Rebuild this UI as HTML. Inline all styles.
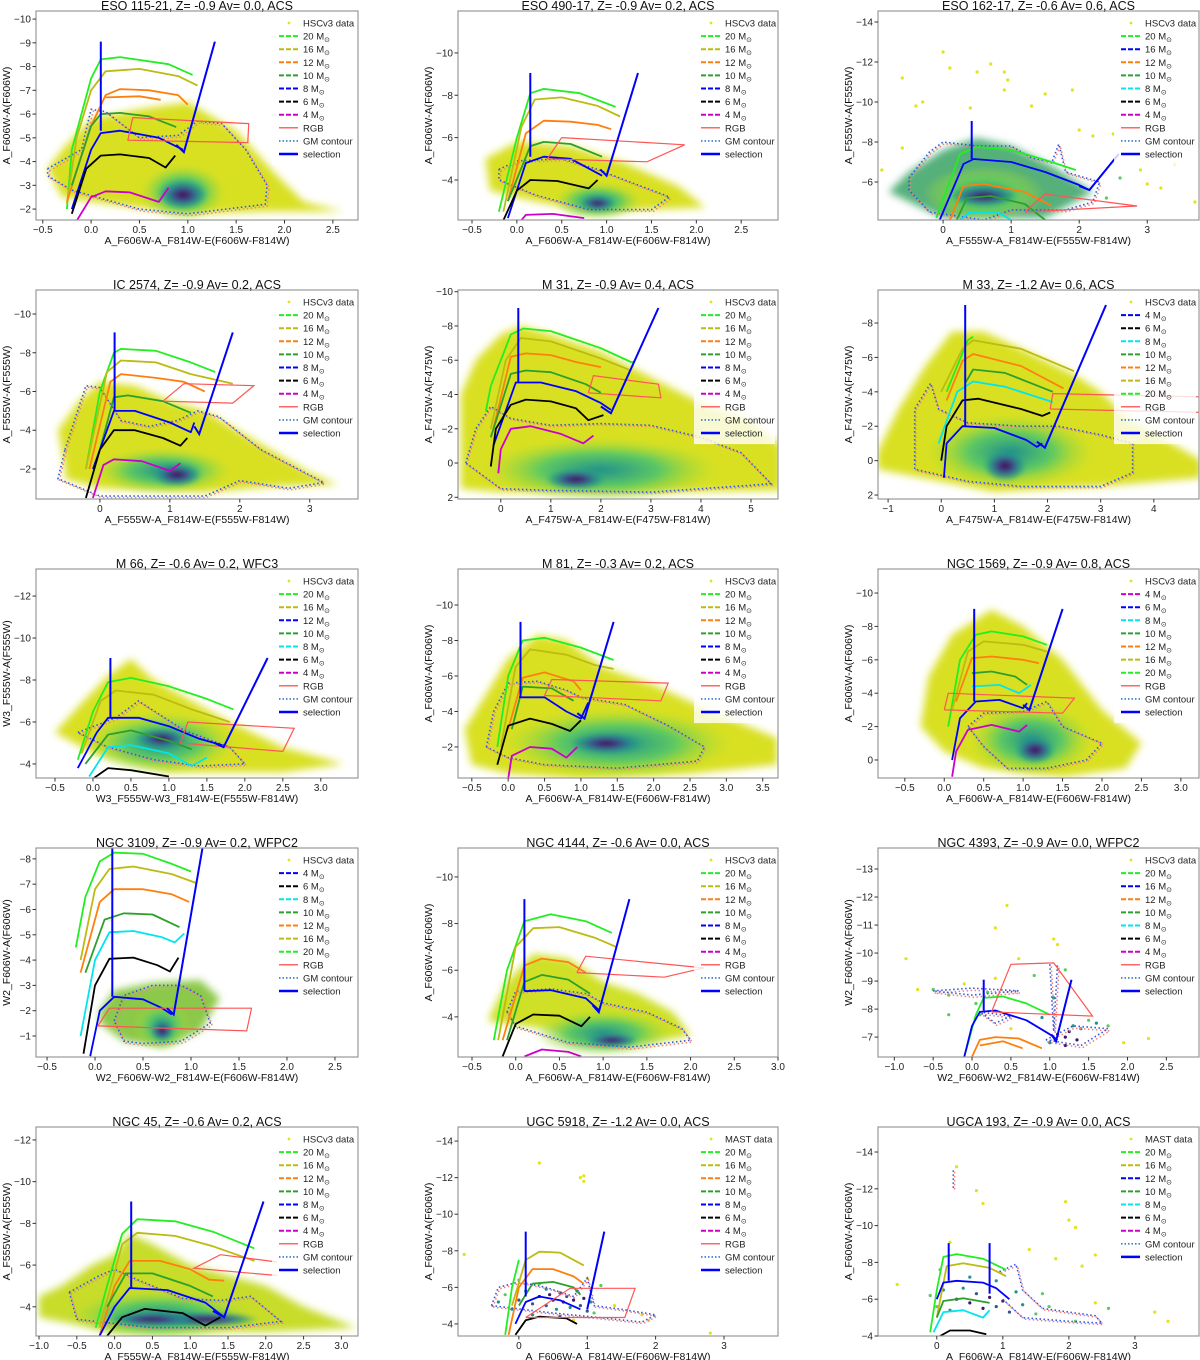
<!DOCTYPE html>
<html><head><meta charset="utf-8"><style>
body{margin:0;background:#fff;}
svg{display:block;font-family:"Liberation Sans","DejaVu Sans",sans-serif;}
</style></head><body>
<svg id="fig" width="1200" height="1360" viewBox="0 0 1200 1360" xmlns="http://www.w3.org/2000/svg">
<defs>
<radialGradient id="halo" cx="50%" cy="50%" r="50%">
<stop offset="0" stop-color="#21918c"/><stop offset="0.5" stop-color="#5ec962"/><stop offset="1" stop-color="#b5de2b" stop-opacity="0"/>
</radialGradient>
<radialGradient id="vir" cx="50%" cy="50%" r="50%">
<stop offset="0" stop-color="#440154"/><stop offset="0.4" stop-color="#3b528b"/><stop offset="0.75" stop-color="#21918c" stop-opacity="0.7"/><stop offset="1" stop-color="#21918c" stop-opacity="0"/>
</radialGradient>
<filter id="soft" x="-10%" y="-10%" width="120%" height="120%"><feGaussianBlur stdDeviation="4"/></filter>
<filter id="soft2" x="-20%" y="-20%" width="140%" height="140%"><feGaussianBlur stdDeviation="2"/></filter>
</defs>
</svg>
<script>
const NS='http://www.w3.org/2000/svg';
const COL={G:'#22ee22',Y:'#bbbb11',O:'#ff7f0e',D:'#2ca02c',B:'#0000ff',K:'#000000',M:'#cc00cc',C:'#00e5ee'};
const PCOL={y:'#e2e418',g:'#5ec962',t:'#21918c',p:'#3b1a6e',b:'#3b528b'};
const titles=['ESO 115-21, Z= -0.9 Av= 0.0, ACS','ESO 490-17, Z= -0.9 Av= 0.2, ACS','ESO 162-17, Z= -0.6 Av= 0.6, ACS','IC 2574, Z= -0.9 Av= 0.2, ACS','M 31, Z= -0.9 Av= 0.4, ACS','M 33, Z= -1.2 Av= 0.6, ACS','M 66, Z= -0.6 Av= 0.2, WFC3','M 81, Z= -0.3 Av= 0.2, ACS','NGC 1569, Z= -0.9 Av= 0.8, ACS','NGC 3109, Z= -0.9 Av= 0.2, WFPC2','NGC 4144, Z= -0.6 Av= 0.0, ACS','NGC 4393, Z= -0.9 Av= 0.0, WFPC2','NGC 45, Z= -0.6 Av= 0.2, ACS','UGC 5918, Z= -1.2 Av= 0.0, ACS','UGCA 193, Z= -0.9 Av= 0.0, ACS'];
const xLabels=['A_F606W-A_F814W-E(F606W-F814W)','A_F606W-A_F814W-E(F606W-F814W)','A_F555W-A_F814W-E(F555W-F814W)','A_F555W-A_F814W-E(F555W-F814W)','A_F475W-A_F814W-E(F475W-F814W)','A_F475W-A_F814W-E(F475W-F814W)','W3_F555W-W3_F814W-E(F555W-F814W)','A_F606W-A_F814W-E(F606W-F814W)','A_F606W-A_F814W-E(F606W-F814W)','W2_F606W-W2_F814W-E(F606W-F814W)','A_F606W-A_F814W-E(F606W-F814W)','W2_F606W-W2_F814W-E(F606W-F814W)','A_F555W-A_F814W-E(F555W-F814W)','A_F606W-A_F814W-E(F606W-F814W)','A_F606W-A_F814W-E(F606W-F814W)'];
const yLabels=['A_F606W-A(F606W)','A_F606W-A(F606W)','A_F555W-A(F555W)','A_F555W-A(F555W)','A_F475W-A(F475W)','A_F475W-A(F475W)','W3_F555W-A(F555W)','A_F606W-A(F606W)','A_F606W-A(F606W)','W2_F606W-A(F606W)','A_F606W-A(F606W)','W2_F606W-A(F606W)','A_F555W-A(F555W)','A_F606W-A(F606W)','A_F606W-A(F606W)'];
const xRanges=[[-0.57,2.76],[-0.656,2.91],[-0.956,3.76],[-0.914,3.69],[-0.855,5.54],[-1.19,4.85],[-0.75,3.49],[-0.69,3.71],[-0.84,3.23],[-0.615,2.74],[-0.66,3.0],[-1.21,2.92],[-1.04,3.22],[-0.89,3.79],[-0.89,3.97]];
const yRanges=[[-10.34,-1.54],[-11.98,-2.11],[-14.55,-4.1],[-11.24,-0.45],[-10.1,2.1],[-9.92,2.23],[-13.29,-3.33],[-12.03,-0.25],[-11.44,1.08],[-8.43,-0.17],[-11.24,-2.28],[-13.75,-6.29],[-12.62,-2.6],[-14.77,-3.34],[-15.36,-4.0]];
const xTicks=[[-0.5,0,0.5,1,1.5,2,2.5],[-0.5,0,0.5,1,1.5,2,2.5],[0,1,2,3],[0,1,2,3],[0,1,2,3,4,5],[-1,0,1,2,3,4],[-0.5,0,0.5,1,1.5,2,2.5,3],[-0.5,0,0.5,1,1.5,2,2.5,3,3.5],[-0.5,0,0.5,1,1.5,2,2.5,3],[-0.5,0,0.5,1,1.5,2,2.5],[-0.5,0,0.5,1,1.5,2,2.5,3],[-1,-0.5,0,0.5,1,1.5,2,2.5],[-1,-0.5,0,0.5,1,1.5,2,2.5,3],[0,1,2,3],[0,1,2,3]];
const xTickDec=[1,1,0,0,0,0,1,1,1,1,1,1,1,0,0];
const yTicks=[[-10,-9,-8,-7,-6,-5,-4,-3,-2],[-10,-8,-6,-4],[-14,-12,-10,-8,-6],[-10,-8,-6,-4,-2],[-10,-8,-6,-4,-2,0,2],[-8,-6,-4,-2,0,2],[-12,-10,-8,-6,-4],[-10,-8,-6,-4,-2],[-10,-8,-6,-4,-2,0],[-8,-7,-6,-5,-4,-3,-2,-1],[-10,-8,-6,-4],[-13,-12,-11,-10,-9,-8,-7],[-12,-10,-8,-6,-4],[-14,-12,-10,-8,-6,-4],[-14,-12,-10,-8,-6,-4]];
const cloudColors=['#d9e021','#d9e021','#55b07a','#d9e021','#d9e021','#d9e021','#d9e021','#d9e021','#d9e021','#8cc84a','#cfe028',null,'#c8dc2a',null,null];
const clouds=[
[[-0.45,-3.7],[-0.3,-4.5],[0,-5.8],[0.5,-6.2],[1.0,-6.5],[1.5,-5.3],[1.9,-3.5],[2.2,-2.3],[2.6,-1.9],[1.8,-1.9],[1.0,-1.8],[0.2,-2.2],[-0.3,-2.5]],
[[-0.3,-3.5],[-0.35,-5],[0,-5.8],[0.6,-5.6],[1.2,-4.8],[1.8,-3.7],[2.1,-2.7],[0.8,-2.5],[0.2,-3]],
[[-0.5,-6.5],[0,-7.6],[0.5,-8.2],[1,-7.8],[1.6,-6.8],[2.2,-5.5],[1.5,-4.2],[0,-4.2],[-0.8,-5.5]],
[[-0.5,-2],[-0.6,-4],[-0.3,-5.5],[0,-6.5],[0.5,-6.3],[1,-5.5],[1.5,-5],[2.2,-3.5],[3,-1.8],[3.4,-1.2],[2.5,-1.1],[1.5,-0.8],[0,-1],[-0.5,-1.5]],
[[-0.8,0.5],[-0.8,-4],[-0.5,-6],[0,-7.5],[0.4,-8],[1,-7.5],[2,-6.5],[3,-5],[4,-3.5],[5,-2.5],[5.6,-1],[5.6,1.6],[3,1.7],[0,1.7],[-0.8,1.5]],
[[-1.2,-0.5],[-0.8,-3],[-0.3,-5.5],[0.2,-7.5],[0.8,-7.5],[1.5,-6.5],[2.5,-5],[3,-4],[3.5,-2.5],[4.9,0],[4.9,1],[3,1.5],[1,1.8],[-1.2,0.5]],
[[-0.5,-5.5],[-0.2,-6.7],[0.2,-8.2],[0.5,-9],[0.8,-8],[1.3,-7],[1.8,-6],[2.5,-4.8],[3.3,-4],[2.5,-3.6],[1,-3.6],[0,-4.5]],
[[-0.5,-1],[-0.6,-3],[-0.3,-5],[0,-7],[0.4,-8.3],[0.8,-8],[1.3,-6.5],[2,-5.5],[2.8,-4],[3.7,-2.5],[3.7,-1],[2.5,-0.5],[1,-0.2],[0,-0.5]],
[[-0.3,-2],[-0.2,-5],[0.1,-7.5],[0.6,-9],[1.0,-8],[1.5,-6],[2,-3],[2.5,-1],[2.3,0.5],[1.5,1],[0.5,0.5],[0,-0.5]],
[[0.05,-2],[0.2,-2.8],[0.6,-3.1],[1.1,-3.2],[1.3,-2.5],[1.1,-1.2],[0.7,-0.6],[0.3,-0.8],[0.05,-1.5]],
[[-0.3,-4],[-0.1,-5.5],[0.2,-6.7],[0.6,-6.5],[1.0,-5.5],[1.4,-5],[1.8,-4.2],[2.0,-3.2],[1.5,-2.9],[1,-2.8],[0.3,-3.5],[-0.3,-3.8]],
[],
[[-1,-4.5],[-0.7,-5],[-0.3,-6],[0,-6.5],[0.2,-7.5],[0.5,-7],[1,-6],[1.5,-5.5],[2,-5],[2.5,-4],[3.2,-3],[2,-2.8],[0,-2.8],[-1,-3.5]],
[],[]];
const cores=[
[[0.95,-2.7,0.45,1.2],[0.95,-2.6,0.25,0.6]],
[[0.9,-3.0,0.5,0.9],[0.9,-2.9,0.2,0.35]],
[[0.6,-5.4,0.9,1.4],[0.6,-5.3,0.5,0.5]],
[[0.9,-1.9,1.0,1.2],[1.1,-1.7,0.35,0.6]],
[[2.0,0.4,2.4,1.9],[1.5,0.95,0.6,0.6]],
[[1.3,-0.5,1.6,2.2],[1.2,0.3,0.4,0.9]],
[[0.9,-5.0,1.0,1.5],[0.9,-5.2,0.35,0.5]],
[[1.5,-2.2,1.6,2.0],[1.35,-2.2,0.5,0.6]],
[[1.1,-1.2,0.8,2.2],[1.15,-0.6,0.25,0.8]],
[[0.7,-1.4,0.3,1.0],[0.7,-1.2,0.12,0.4]],
[[1.0,-3.3,0.8,1.0],[1.1,-3.0,0.3,0.3]],
[],
[[0.6,-3.6,1.2,1.2],[1.2,-3.4,0.7,0.35],[0.5,-3.4,0.6,0.35]],
[],[]];
const scatters=[[],[],
[[-0.6,-11.2,'y'],[0,-12.5,'y'],[0.1,-11.7,'y'],[0.5,-11.5,'y'],[0.7,-11.9,'y'],[0.9,-11.5,'y'],[0.95,-11.1,'y'],[0.9,-10.6,'y'],[-0.4,-9.8,'y'],[-0.3,-10,'y'],[1.5,-10.4,'y'],[1.9,-10.6,'y'],[1.3,-9.8,'y'],[-0.6,-7.7,'y'],[-0.9,-6.6,'y'],[2,-8.6,'y'],[2.2,-8.3,'y'],[2.5,-8.4,'y'],[3.4,-6.9,'y'],[3.0,-5.9,'y'],[3.2,-5.7,'y'],[3.7,-5.0,'y'],[2.9,-6.6,'y'],[0.4,-9.7,'y'],[2.6,-6.2,'g'],[2.4,-5.2,'g']],
[],[],[],[],[],[],[],[],
[[-0.85,-9.8,'y'],[-0.7,-8.7,'y'],[-0.5,-8.7,'g'],[-0.3,-8.5,'g'],[-0.1,-8.9,'y'],[0.05,-8.2,'g'],[0.1,-7.8,'g'],[0.2,-8.6,'g'],[0.3,-9.1,'y'],[0.45,-11.7,'y'],[0.3,-10.9,'y'],[0.6,-9.8,'y'],[1.05,-10.5,'y'],[1.1,-10.3,'y'],[0.8,-9.2,'g'],[1.2,-9.4,'g'],[1.2,-7.0,'p'],[1.25,-7.2,'p'],[1.3,-7.4,'t'],[1.1,-7.1,'p'],[1.4,-7.3,'t'],[1.0,-6.8,'t'],[1.5,-7.6,'g'],[1.2,-6.7,'p'],[1.35,-6.9,'p'],[1.6,-7.5,'t'],[1.95,-6.8,'y'],[2.27,-6.95,'y'],[1.05,-8.4,'t'],[0.9,-7.7,'t'],[-0.3,-7.8,'g'],[0.5,-7.3,'y'],[1.75,-7.4,'g']],
[],
[[-0.3,-5.2,'t'],[-0.2,-5.6,'g'],[-0.1,-4.8,'t'],[0,-5.3,'b'],[0.1,-5.8,'t'],[0.2,-5.1,'b'],[0.3,-5.5,'p'],[0.4,-5.0,'b'],[0.45,-5.6,'p'],[0.5,-5.3,'p'],[0.55,-4.8,'t'],[0.6,-5.7,'b'],[0.65,-5.2,'p'],[0.7,-5.5,'b'],[0.75,-4.9,'t'],[0.8,-5.3,'p'],[0.85,-5.8,'t'],[0.9,-5.0,'b'],[0.95,-5.4,'p'],[1.0,-4.7,'b'],[1.05,-5.2,'t'],[1.1,-4.6,'g'],[0.3,-6.2,'g'],[0.0,-6.4,'g'],[1.2,-6.1,'g'],[0.2,-4.5,'t'],[0.6,-4.4,'b'],[1.4,-5.0,'y'],[1.0,-6.5,'y'],[1.8,-4.5,'y'],[-0.8,-7.8,'y'],[0.3,-12.8,'y'],[0.9,-12.0,'y'],[0.95,-11.8,'y'],[0.95,-12.1,'y'],[2.8,-3.5,'y'],[1.9,-4.2,'y'],[0.4,-5.9,'t'],[0.8,-4.2,'y']],
[[0.3,-13.2,'y'],[0.6,-11.9,'y'],[0.7,-11.2,'y'],[1.95,-11.3,'y'],[2.0,-10.3,'y'],[2.1,-9.9,'y'],[1.4,-8.7,'y'],[1.8,-8.2,'y'],[2.2,-7.8,'y'],[2.4,-8.4,'y'],[3.3,-5.3,'y'],[3.5,-4.8,'y'],[-0.6,-6.8,'y'],[0.2,-9.1,'y'],[-0.1,-6.2,'g'],[0.1,-6.5,'t'],[0.3,-6.0,'p'],[0.5,-5.8,'p'],[0.6,-6.3,'b'],[0.7,-5.5,'p'],[0.8,-6.1,'p'],[0.9,-5.6,'b'],[1.0,-5.9,'p'],[1.1,-5.3,'b'],[1.2,-6.4,'t'],[0.4,-6.6,'t'],[0.2,-5.4,'t'],[0.0,-5.6,'g'],[1.3,-5.7,'t'],[1.5,-5.2,'g'],[0.5,-7.2,'t'],[0.9,-7.0,'t'],[1.6,-6.3,'g'],[0.05,-7.6,'g'],[1.7,-5.6,'g'],[2.1,-4.8,'g'],[2.4,-5.8,'y'],[2.6,-5.5,'g']]];
const tracks=[
[['G',[[-0.25,-2],[-0.2,-4.5],[0,-7.5],[0.1,-8.3],[0.3,-8.4],[0.8,-8.1],[1.05,-7.65]]],['Y',[[-0.25,-2.2],[-0.15,-5],[0,-7],[0.15,-7.8],[0.5,-7.9],[0.9,-7.6],[1.1,-7.2]]],['O',[[-0.25,-2.3],[0,-5.5],[0.15,-6.8],[0.3,-7.05],[0.6,-7],[0.9,-6.8],[1.0,-6.4]]],['O',[[0.15,-6.7],[0.5,-6.75],[0.72,-6.6]]],['D',[[-0.2,-3],[0,-5.5],[0.1,-6],[0.3,-6.05],[0.6,-5.9],[0.88,-5.45]]],['B',[[-0.2,-2],[0,-4.5],[0.1,-5.2],[0.3,-5.3],[0.7,-5],[0.95,-4.5]]],['K',[[-0.2,-1.8],[-0.05,-3.7],[0.1,-4.25],[0.3,-4.3],[0.6,-4.15],[0.77,-3.75],[0.87,-4.25]]],['M',[[-0.15,-1.5],[0,-2.5],[0.15,-2.75],[0.4,-2.7],[0.7,-2.3],[0.8,-2.9]]]],
[['G',[[-0.2,-2.5],[0,-6],[0.15,-8.1],[0.3,-8.3],[0.7,-8.1],[1.1,-7.45]]],['Y',[[-0.15,-2.5],[0.05,-6.5],[0.2,-7.8],[0.5,-7.9],[0.9,-7.5],[1.15,-7.0]]],['O',[[-0.1,-3],[0.1,-6.2],[0.3,-6.8],[0.6,-6.75],[0.9,-6.6],[1.05,-6.4]]],['D',[[-0.1,-3],[0.15,-5.6],[0.3,-5.8],[0.6,-5.7],[0.95,-5.1]]],['B',[[-0.1,-2.2],[0.1,-4.8],[0.3,-5.1],[0.6,-5.0],[0.95,-4.2]]],['K',[[-0.15,-2.1],[0,-3.5],[0.15,-4.0],[0.45,-3.95],[0.8,-3.6],[0.9,-4.0]]],['M',[[0.05,-2.1],[0.1,-2.35],[0.4,-2.4],[0.75,-2.2]]]],
[['G',[[-0.1,-4.2],[0.25,-7.4],[0.5,-7.75],[1,-7.6],[1.5,-7.1],[1.95,-6.6]]],['B',[[-0.05,-4.1],[0.3,-6.9],[0.45,-7.15],[1,-7],[1.5,-6.5],[2,-5.85],[2.15,-5.6]]],['O',[[0.1,-4.1],[0.3,-5.8],[0.6,-5.9],[1.2,-5.5],[1.6,-4.8]]],['D',[[0.2,-4.1],[0.35,-5.2],[0.7,-5.3],[1.2,-4.9],[1.5,-4.1]]],['C',[[0.25,-4.1],[0.4,-4.5],[0.8,-4.5],[1,-4.1]]]],
[['G',[[-0.2,-2],[0,-6],[0.2,-8],[0.3,-8.2],[0.8,-8.1],[1.3,-7.5],[1.65,-7]]],['Y',[[-0.2,-2],[0.1,-7],[0.3,-7.6],[0.8,-7.5],[1.3,-6.9],[1.9,-6.4]]],['O',[[-0.15,-2],[0.15,-6.5],[0.3,-6.9],[0.8,-6.7],[1.2,-6.5],[1.5,-6.0]]],['D',[[0,-3],[0.2,-5.7],[0.4,-5.8],[0.9,-5.5],[1.3,-4.9]]],['B',[[-0.1,-2],[0.2,-5],[0.5,-5],[1,-4.4],[1.3,-3.9],[1.35,-4.4]]],['K',[[-0.2,-0.5],[0,-3],[0.2,-4],[0.5,-4],[0.9,-3.6],[1.15,-3.2],[1.25,-3.6]]],['M',[[-0.1,-0.5],[0.05,-2.2],[0.2,-2.5],[0.6,-2.4],[1.0,-1.9],[1.15,-2.3]]]],
[['G',[[-0.3,-3],[-0.2,-4.5],[0.2,-7.5],[0.45,-7.85],[1,-7.7],[2,-6.7],[2.6,-5.9],[2.65,-5.9]]],['Y',[[-0.2,-2],[0.1,-6],[0.4,-7.3],[1,-7.1],[2,-6.1],[2.6,-5.4]]],['O',[[-0.15,-2],[0.2,-6.2],[0.5,-6.4],[1,-6.3],[1.5,-5.9],[2,-5.6]]],['D',[[-0.2,-1.5],[0.2,-5.2],[0.5,-5.4],[1,-5.3],[1.7,-4.6],[2,-4.1]]],['B',[[-0.15,-1],[0.3,-4.7],[0.8,-4.7],[1.5,-4.2],[2.0,-3.5],[2.2,-3.1]]],['K',[[-0.2,0.2],[-0.1,-2],[0.2,-3.4],[0.5,-3.7],[1,-3.6],[1.5,-3.2],[1.75,-2.5],[2.05,-2.8]]],['M',[[-0.05,0.6],[0,-0.8],[0.2,-2],[0.6,-2.15],[1.2,-1.7],[1.65,-1.15],[1.85,-1.6]]]],
[['G',[[0.1,-4],[0.5,-7.0],[0.6,-7.2]]],['Y',[[0,-4],[0.4,-6.5],[0.6,-7.0],[1.5,-6.5],[2.5,-5.2]]],['O',[[0.1,-3.5],[0.4,-5.8],[0.6,-6.2],[1.5,-5.5],[2.3,-4.2]]],['D',[[0.45,-4.5],[0.6,-5.3],[1.2,-5.1],[2.1,-4.0]]],['C',[[-0.05,-1],[0.3,-4],[0.6,-4.6],[1.2,-4.3],[2,-3.5],[2.1,-3.4]]],['K',[[0,0],[0.1,-2],[0.4,-3.5],[0.7,-3.6],[1.5,-3],[1.9,-2.6],[2.05,-2.8]]],['B',[[0.05,1],[0.1,-1],[0.4,-2.0],[1,-1.9],[1.6,-1.2],[1.8,-0.8],[1.9,-1.0]]]],
[['G',[[-0.2,-4.2],[0,-6.5],[0.2,-7.9],[0.5,-8.1],[1.0,-7.7],[1.5,-7.1],[1.85,-6.6]]],['Y',[[-0.15,-4.5],[0.1,-7],[0.3,-7.5],[0.8,-7.3],[1.3,-6.6],[1.8,-6.0]]],['B',[[-0.2,-3.8],[0.05,-5.5],[0.2,-6.2],[0.6,-6.2],[1,-5.8],[1.4,-5.2],[1.6,-5.0],[1.7,-4.9]]],['D',[[-0.1,-4],[0.2,-5.4],[0.5,-5.6],[1,-5.1],[1.3,-4.7]]],['C',[[-0.05,-3.4],[0.2,-4.8],[0.5,-4.9],[1,-4.5],[1.3,-3.9],[1.5,-4.3]]],['K',[[0,-3.3],[0.2,-3.8],[0.5,-3.7],[1,-3.4]]]],
[['G',[[-0.15,-2],[0,-6],[0.2,-8],[0.5,-8.15],[1,-7.6],[1.45,-6.9]]],['Y',[[-0.1,-2],[0.1,-6.5],[0.3,-7.5],[0.8,-7.2],[1.2,-6.6],[1.45,-6.4]]],['O',[[0,-3],[0.2,-5.9],[0.5,-6.2],[0.9,-5.7],[1.0,-5.2]]],['D',[[0.05,-3],[0.2,-5.4],[0.6,-5.3],[0.9,-4.6]]],['B',[[0.15,-4.8],[0.5,-4.8],[0.8,-4.0],[1.0,-3.6],[1.1,-4.5]]],['K',[[-0.15,-1],[0,-3.2],[0.3,-3.6],[0.6,-3.3],[0.85,-2.9],[1.0,-3.5]]],['M',[[0,-0.2],[0.05,-1.5],[0.3,-2.0],[0.6,-1.9],[0.8,-1.4],[0.95,-2.0]]]],
[['G',[[0.05,-2],[0.2,-6],[0.4,-7.5],[0.6,-7.7],[1.0,-7.4],[1.3,-6.9]]],['Y',[[0.1,-3],[0.3,-6.5],[0.5,-7.1],[1,-6.9],[1.3,-6.5]]],['O',[[0.15,-3.5],[0.35,-6.1],[0.6,-6.2],[1,-6.0],[1.2,-5.8]]],['D',[[0.35,-5.2],[0.6,-5.3],[0.9,-5.0],[1.05,-4.5]]],['C',[[0.35,-4.4],[0.7,-4.5],[0.95,-4.0],[1.1,-4.5]]],['B',[[0.1,0],[0.2,-2.5],[0.4,-3.5],[0.7,-3.6],[1.0,-3.1],[1.05,-3.4]]],['M',[[0.1,1],[0.15,-0.5],[0.3,-1.8],[0.6,-2.1],[0.95,-1.7],[1.05,-2.1]]]],
[['G',[[-0.2,-4.5],[-0.1,-6.5],[0.05,-7.9],[0.2,-8.25],[0.5,-8.2],[0.8,-7.8],[1.0,-7.5]]],['Y',[[-0.15,-4],[0,-6.8],[0.15,-7.6],[0.4,-7.7],[0.8,-7.4],[1.05,-7.05]]],['O',[[-0.15,-3.5],[0.05,-6.3],[0.2,-6.8],[0.5,-6.8],[0.8,-6.6],[0.98,-6.3]]],['D',[[-0.1,-3.5],[0.1,-5.6],[0.3,-5.85],[0.6,-5.8],[0.88,-5.3]]],['C',[[-0.15,-1],[0,-4],[0.15,-5.1],[0.4,-5.15],[0.7,-4.9],[0.83,-4.7],[0.93,-5.05]]],['K',[[-0.12,-0.3],[0,-3],[0.15,-4.05],[0.4,-4.1],[0.65,-3.8],[0.78,-3.55],[0.87,-4.1]]],['B',[[-0.05,-0.2],[0.05,-2],[0.2,-2.55],[0.5,-2.45],[0.7,-2.1],[0.8,-1.85]]]],
[['G',[[-0.25,-3],[-0.1,-6],[0.1,-8.1],[0.4,-8.4],[0.8,-8.1],[1.1,-7.6]]],['Y',[[-0.2,-3],[0,-7],[0.2,-7.8],[0.5,-7.85],[0.9,-7.4],[1.15,-7.0]]],['O',[[-0.15,-3],[0.1,-6.2],[0.3,-6.5],[0.6,-6.35],[0.8,-5.9]]],['D',[[-0.1,-3],[0.1,-5.5],[0.3,-5.8],[0.6,-5.6],[0.85,-5.0]]],['B',[[0.1,-5.1],[0.4,-5.15],[0.8,-4.8],[0.95,-4.3]]],['K',[[-0.15,-2.3],[0,-3.7],[0.2,-4.1],[0.5,-4.05],[0.75,-3.6],[0.85,-4.0]]],['M',[[0.1,-2.3],[0.3,-2.6],[0.6,-2.5],[0.75,-2.3]]]],
[['G',[[-0.1,-6.3],[0.05,-7.8],[0.15,-8.4],[0.4,-8.45],[0.7,-8.2],[1.0,-7.8]]],['B',[[-0.1,-6.3],[0,-7.4],[0.1,-7.9],[0.3,-7.95],[0.7,-7.6],[1.0,-7.1],[1.1,-6.9]]],['O',[[0.0,-6.3],[0.1,-6.9],[0.3,-7.0],[0.6,-6.95],[0.9,-6.6]]],['O',[[0.1,-6.7],[0.4,-6.85],[0.65,-6.6]]]],
[['G',[[-0.25,-3],[-0.1,-5],[0.1,-7.5],[0.3,-8.2],[0.8,-8.1],[1.3,-7.6],[1.85,-6.8]]],['Y',[[-0.2,-3],[0.1,-7],[0.3,-7.55],[0.8,-7.4],[1.3,-6.9],[1.85,-6.2]]],['O',[[-0.2,-2.6],[0,-5],[0.2,-6.2],[0.6,-6.2],[1.0,-5.8],[1.25,-5.3],[1.45,-5.25]]],['D',[[-0.1,-4],[0.15,-5.6],[0.5,-5.6],[1.0,-5.0],[1.3,-4.5]]],['B',[[-0.2,-2.6],[0,-4],[0.2,-4.9],[0.7,-4.8],[1.2,-4.2],[1.45,-3.5]]],['K',[[-0.1,-2.6],[0.1,-3.5],[0.4,-3.9],[0.9,-3.7],[1.2,-3.1],[1.4,-3.5]]]],
[['G',[[-0.2,-3.4],[-0.1,-6],[0.0,-7.5]]],['Y',[[-0.1,-5],[0.1,-7.5],[0.3,-7.95],[0.6,-7.9],[0.95,-7.2]]],['O',[[-0.15,-3.4],[0,-6],[0.2,-7.0],[0.5,-7.0],[0.8,-6.6],[0.95,-6.2]]],['D',[[0,-5],[0.2,-6.2],[0.5,-6.3],[0.8,-6.0],[0.9,-5.6]]],['B',[[-0.05,-4],[0.1,-5.2],[0.3,-5.5],[0.6,-5.3],[0.9,-4.8]]],['K',[[-0.05,-3.4],[0.1,-4.2],[0.3,-4.4],[0.7,-4.3],[0.85,-4.0]]]],
[['G',[[-0.1,-4.2],[0,-6.5],[0.1,-8.3],[0.3,-8.45],[0.7,-8.2],[1.05,-7.6]]],['Y',[[0,-5],[0.15,-7.8],[0.4,-7.95],[0.8,-7.7],[1.05,-7.25]]],['B',[[0,-6],[0.1,-6.9],[0.3,-7.0],[0.7,-6.9],[0.9,-6.6],[1.0,-6.3],[1.1,-6.0]]],['D',[[0,-5],[0.1,-5.9],[0.4,-6.05],[0.8,-5.8]]],['C',[[-0.05,-4.2],[0.1,-5.3],[0.4,-5.4],[0.7,-5.0],[0.8,-5.4]]],['K',[[0.05,-4],[0.2,-4.3],[0.5,-4.3],[0.75,-4.1]]]]];
const selections=[
[[[0.1,-9.05],[0.1,-5.3]],[[1.28,-9.05],[0.96,-4.4],[0.88,-4.7]]],
[[[0.15,-9.05],[0.15,-5.1]],[[1.35,-9.05],[1.0,-4.2],[0.93,-4.5]]],
[[[0.42,-9.05],[0.42,-7.15]],[[2.58,-7.4],[2.15,-5.6],[2.0,-5.8]]],
[[[0.21,-9.05],[0.21,-5.0]],[[1.9,-9.05],[1.42,-3.8],[1.35,-4.2]]],
[[[0.35,-9.05],[0.35,-4.75]],[[3.15,-9.05],[2.2,-2.9],[2.0,-3.3]]],
[[[0.45,-9.05],[0.45,-2.0]],[[3.1,-9.05],[1.95,-0.75],[1.8,-1.1]]],
[[[0.23,-9.05],[0.23,-6.2]],[[2.3,-9.05],[1.72,-4.8],[1.6,-5.0]]],
[[[0.17,-9.05],[0.17,-4.8]],[[1.45,-9.05],[1.05,-3.6],[0.95,-3.9]]],
[[[0.38,-9.05],[0.38,-3.5]],[[1.5,-9.05],[1.08,-3.0],[1.0,-3.3]]],
[[[0.18,-8.43],[0.18,-2.55]],[[1.12,-8.43],[0.82,-1.85],[0.75,-2.1]]],
[[[0.1,-9.05],[0.1,-5.1]],[[1.3,-9.05],[0.95,-4.2],[0.88,-4.5]]],
[[[0.15,-9.05],[0.15,-7.95]],[[1.28,-9.05],[1.08,-6.85],[1.02,-7.1]]],
[[[0.22,-9.05],[0.22,-4.9]],[[1.97,-9.05],[1.45,-3.5],[1.3,-3.8]]],
[[[0.1,-9.05],[0.1,-5.5]],[[1.25,-9.05],[1.0,-4.8]]],
[[[0.18,-9.05],[0.18,-7.0]],[[0.8,-9.05],[0.8,-6.3]]]];
const rgbs=[
[[0.43,-5.85],[1.63,-5.6],[1.62,-4.8],[0.38,-4.9],[0.43,-5.85]],
[[0.5,-6.0],[1.87,-5.66],[1.45,-4.86],[0.34,-5.0],[0.5,-6.0]],
[[1.2,-4.5],[1.5,-5.4],[2.85,-4.8],[1.2,-4.5]],
[[0.9,-5.5],[1.2,-6.4],[2.2,-6.3],[1.9,-5.4],[0.9,-5.5]],
[[1.75,-4.1],[1.85,-5.1],[3.15,-4.6],[3.2,-3.8],[1.75,-4.1]],
[[2.05,-3.0],[2.1,-3.9],[5,-3.7],[5,-2.8],[2.05,-3.0]],
[[1.15,-5.0],[1.25,-6.0],[2.65,-5.7],[2.5,-4.6],[1.15,-5.0]],
[[0.5,-4.9],[0.6,-5.8],[2.2,-5.6],[2.1,-4.6],[0.5,-4.9]],
[[0.0,-3.0],[0.05,-4.0],[1.65,-3.7],[1.5,-2.8],[0,-3.0]],
[[0.03,-1.4],[0.15,-2.1],[1.63,-2.1],[1.58,-1.2],[0.03,-1.4]],
[[0.7,-5.9],[0.8,-6.6],[2.15,-6.1],[1.7,-5.7],[0.7,-5.9]],
[[0.25,-7.9],[0.5,-9.6],[1.05,-9.65],[1.55,-7.75],[0.25,-7.9]],
[[2.15,-6.15],[1.4,-6.5],[1.05,-5.85],[2.15,-5.5]],
[[0.1,-4.35],[0.75,-5.95],[1.7,-5.95],[1.55,-4.35],[0.1,-4.35]],
[]];
const gms=[
[[[-0.45,-3.7],[-0.1,-4.5],[0,-6.2],[0.15,-6.1],[0.5,-5],[0.9,-5.1],[1.1,-5.7],[1.35,-5.6],[1.6,-4.5],[1.82,-3],[1.8,-2.2],[1.0,-1.8],[0.5,-2.0],[-0.2,-2.8],[-0.45,-3.4],[-0.45,-3.7]]],
[[[-0.2,-4.5],[0,-4.9],[0.5,-5],[0.9,-4.5],[1.2,-4],[1.7,-3.2],[1.5,-2.6],[0.8,-2.6],[0.2,-3.3],[-0.2,-4],[-0.2,-4.5]]],
[[[-0.5,-6.2],[-0.2,-7.5],[0,-8.0],[0.5,-7.8],[1,-7.8],[1.3,-7.2],[1.6,-7.0],[1.7,-7.9],[1.8,-6.5],[2.3,-6],[2.2,-5],[1.8,-4.6],[1,-4.6],[0.6,-4.1],[-0.2,-4.5],[-0.5,-5.6],[-0.5,-6.2]]],
[[[-0.5,-3],[-0.2,-6.3],[0,-6.2],[0.3,-4.5],[0.7,-4.2],[1.1,-4.5],[1.4,-5],[1.7,-4.7],[2.3,-3],[3.2,-1.3],[2.7,-1.0],[2.0,-1.4],[1.5,-0.6],[0,-0.6],[-0.6,-1.5],[-0.5,-3]]],
[[[-0.7,0],[-0.5,-2],[-0.2,-3.3],[0.2,-2.6],[1,-2.2],[2,-2.3],[3,-2.2],[4,-1.5],[4.8,-0.6],[5.4,1.2],[5,1.3],[3,1.7],[1,1.6],[0,1.5],[-0.7,0]]],
[[[-0.5,0],[-0.5,-3],[-0.2,-4.5],[-0.05,-3],[0.5,-2.2],[1.5,-2.0],[2.2,-2.0],[3,-1.5],[3.6,-1],[3.6,0.7],[3,1.5],[1.5,1.5],[0.5,1.2],[-0.5,0.5],[-0.5,0]]],
[[[-0.2,-5.5],[0.3,-6.2],[0.6,-7],[0.9,-6.3],[1.2,-5.6],[1.8,-4.8],[2.0,-4.0],[1.4,-3.9],[0.8,-4.2],[0.2,-4.8],[-0.2,-5.5]]],
[[[-0.3,-2],[-0.2,-4],[0,-5.6],[0.4,-5.7],[0.8,-5.2],[1,-4.8],[1.6,-4.4],[2.2,-3.2],[2.7,-2],[2.6,-1.2],[1.5,-0.8],[0.5,-1.0],[0,-1.4],[-0.3,-2]]],
[[[0.3,-2],[0.5,-2.8],[1,-2.9],[1.3,-3.5],[1.5,-2],[2,-1],[1.8,0],[1.3,0.5],[0.8,0.5],[0.5,-0.8],[0.3,-2]]],
[[[0.2,-1.6],[0.3,-2.6],[0.6,-3.0],[0.9,-3.0],[1.1,-2.6],[1.2,-1.5],[0.9,-0.8],[0.5,-0.7],[0.3,-0.8],[0.2,-1.6]]],
[[[-0.1,-4.2],[0,-5.1],[0.4,-5.2],[0.8,-5.0],[1.0,-4.6],[1.5,-4.2],[1.9,-3.5],[2.0,-3.0],[1.3,-2.7],[0.6,-2.9],[0,-3.6],[-0.1,-4.2]]],
[[[-0.5,-8.65],[0,-8.75],[0.6,-8.65],[0,-8.5],[-0.5,-8.65]],[[0.95,-6.9],[1.3,-7.4],[1.75,-7.3],[1.4,-6.7],[0.95,-6.9]],[[1.0,-9.6],[1.05,-7.2],[1.1,-9.6]],[[0.1,-7.9],[0.5,-7.75],[0.3,-7.5],[0.1,-7.9]]],
[[[-0.6,-4.7],[-0.2,-5.5],[0,-5.8],[0.3,-5.3],[0.9,-4.4],[1.4,-4.3],[1.8,-4.5],[2.2,-3.3],[1.5,-3.0],[0.5,-3.0],[-0.5,-3.4],[-0.6,-4.7]]],
[[[-0.4,-5],[-0.3,-6],[0,-6.3],[0.4,-6],[0.8,-5.5],[1.0,-6.5],[1.1,-5],[1.5,-4.8],[2,-4.5],[1.8,-4.1],[1.3,-4.3],[0.5,-4.6],[-0.4,-5]]],
[[[0.95,-7.5],[1.2,-7.9],[1.3,-6.5],[1.6,-5.5],[2,-5.3],[2.4,-5.1],[2.5,-4.7],[2,-4.8],[1.3,-5.0],[1.0,-6.0]],[[0.25,-13],[0.25,-12]]]];
const S=['20:G','16:Y','12:O','10:D','8:B','6:K','4:M'];
const legends=[S,S,['20:G','16:B','12:O','10:D','8:C','6:K','4:M'],S,S,['4:B','6:K','8:C','10:D','12:O','16:Y','20:G'],['20:G','16:Y','12:B','10:D','8:C','6:K','4:M'],S,['4:M','6:B','8:C','10:D','12:O','16:Y','20:G'],['4:B','6:K','8:C','10:D','12:O','16:Y','20:G'],S,['20:G','16:B','12:O','10:D','8:C','6:K','4:M'],S,S,['20:G','16:Y','12:B','10:D','8:C','6:K','4:M']];
const dataLabels=['HSCv3 data','HSCv3 data','HSCv3 data','HSCv3 data','HSCv3 data','HSCv3 data','HSCv3 data','HSCv3 data','HSCv3 data','HSCv3 data','HSCv3 data','HSCv3 data','HSCv3 data','MAST data','MAST data'];
const colLeft=[36,458,878],colW=[322,320,321],rowTop=[11,290,569,848,1127],H=209;
const svg=document.getElementById('fig');
function mk(tag,at,par){const e=document.createElementNS(NS,tag);for(const k in at)e.setAttribute(k,at[k]);(par||svg).appendChild(e);return e;}
function fmt(v,d){const s=Math.abs(v).toFixed(d);return (v<0?'\u2212':'')+s;}
for(let i=0;i<15;i++){
 const L=colLeft[i%3],W=colW[i%3],T=rowTop[Math.floor(i/3)];
 const xr=xRanges[i],yr=yRanges[i];
 const sx=x=>L+(x-xr[0])/(xr[1]-xr[0])*W, sy=y=>T+(y-yr[0])/(yr[1]-yr[0])*H;
 const pts=a=>a.map(p=>sx(p[0]).toFixed(1)+','+sy(p[1]).toFixed(1)).join(' ');
 const g=mk('g',{});
 
 
 const cp=mk('clipPath',{id:'cp'+i},g);mk('rect',{x:L,y:T,width:W,height:H},cp);
 const plot=mk('g',{'clip-path':'url(#cp'+i+')'},g);
 
 
 if(clouds[i].length){const c=mk('polygon',{points:pts(clouds[i]),fill:cloudColors[i],filter:'url(#soft)'},plot);
  }
 cores[i].forEach((e,k)=>{const el=mk('ellipse',{cx:sx(e[0]),cy:sy(e[1]),rx:Math.abs(sx(e[0]+e[2])-sx(e[0])),ry:Math.abs(sy(e[1]+e[3])-sy(e[1])),fill:k===0?'url(#halo)':'url(#vir)',filter:'url(#soft2)'},plot);
  });
 scatters[i].forEach(p=>{const el=mk('circle',{cx:sx(p[0]),cy:sy(p[1]),r:1.6,fill:PCOL[p[2]]},plot);
  });
 gms[i].forEach(a=>{
  const e2=mk('polyline',{points:pts(a.map(p=>[p[0]+0.02,p[1]+0.08])),fill:'none',stroke:'#f08080','stroke-width':1.5,'stroke-dasharray':'1.5 2.5'},plot);
  
  const e=mk('polyline',{points:pts(a),fill:'none',stroke:'#3355dd','stroke-width':1.6,'stroke-dasharray':'1.5 2.5'},plot);
  });
 tracks[i].forEach(t=>{const e=mk('polyline',{points:pts(t[1]),fill:'none',stroke:COL[t[0]],'stroke-width':1.8,'stroke-linejoin':'round'},plot);
  });
 if(rgbs[i].length){const e=mk('polyline',{points:pts(rgbs[i]),fill:'none',stroke:'#ff5555','stroke-width':1.2},plot);
  }
 selections[i].forEach(a=>{const e=mk('polyline',{points:pts(a),fill:'none',stroke:'#0000ff','stroke-width':2},plot);
  });
 const fr=mk('rect',{x:L,y:T,width:W,height:H,fill:'none',stroke:'#999','stroke-width':1.2},g);
 
 xTicks[i].forEach(v=>{const x=sx(v);mk('line',{x1:x,y1:T+H,x2:x,y2:T+H+3.5,stroke:'#333'},g);
  const t=mk('text',{x:x,y:T+H+13,'font-size':10,'text-anchor':'middle',fill:'#222'},g);t.textContent=fmt(v,xTickDec[i]);
  });
 yTicks[i].forEach(v=>{const y=sy(v);mk('line',{x1:L-3.5,y1:y,x2:L,y2:y,stroke:'#333'},g);
  const t=mk('text',{x:L-5,y:y+3.5,'font-size':10,'text-anchor':'end',fill:'#222'},g);t.textContent=fmt(v,0);
  });
 const xl=mk('text',{x:L+W/2,y:T+H+24,'font-size':10.5,'text-anchor':'middle',fill:'#111'},g);xl.textContent=xLabels[i];
 
 const yx=L-26,yy=T+H/2;
 const yl=mk('text',{x:yx,y:yy,'font-size':10.5,'text-anchor':'middle',fill:'#111',transform:'rotate(-90 '+yx+' '+yy+')'},g);yl.textContent=yLabels[i];
 
 const tt=mk('text',{x:L+W/2,y:T-1,'font-size':12.5,'text-anchor':'middle',fill:'#111'},g);tt.textContent=titles[i];
 
 const lg=mk('g',{},g);
 
 
 const items=[['d',dataLabels[i]]].concat(legends[i].map(s=>['m',s])).concat(i===14?[['gm'],['sel']]:[['rgb'],['gm'],['sel']]);
 mk('rect',{x:L+236,y:T+4,width:W-239,height:items.length*13.1+6,fill:'#fff',opacity:0.8},lg);
 items.forEach((it,k)=>{
  const y=T+12+k*13.1, x0=L+243, x1=L+262, tx=L+267;
  let label='';
  if(it[0]==='d'){mk('circle',{cx:x0+10,cy:y,r:1.4,fill:'#e2e418'},lg);label=it[1];}
  else if(it[0]==='m'){const p=it[1].split(':');mk('line',{x1:x0,y1:y,x2:x1,y2:y,stroke:COL[p[1]],'stroke-width':2,'stroke-dasharray':'5 2'},lg);label=p[0]+' M';}
  else if(it[0]==='rgb'){mk('line',{x1:x0,y1:y,x2:x1,y2:y,stroke:'#ff6666','stroke-width':1.5},lg);label='RGB';}
  else if(it[0]==='gm'){mk('line',{x1:x0,y1:y,x2:x1,y2:y,stroke:'#3377cc','stroke-width':1.6,'stroke-dasharray':'1.5 2'},lg);label='GM contour';}
  else {mk('line',{x1:x0,y1:y,x2:x1,y2:y,stroke:'#0000ff','stroke-width':2.5},lg);label='selection';}
  const t=mk('text',{x:tx,y:y+3.5,'font-size':9.5,fill:'#222'},lg);t.textContent=label;
  if(it[0]==='m'){const s=mk('tspan',{'font-size':7,dy:2.5},t);s.textContent='\u2299';}
  
 });
}
</script>
</body></html>
